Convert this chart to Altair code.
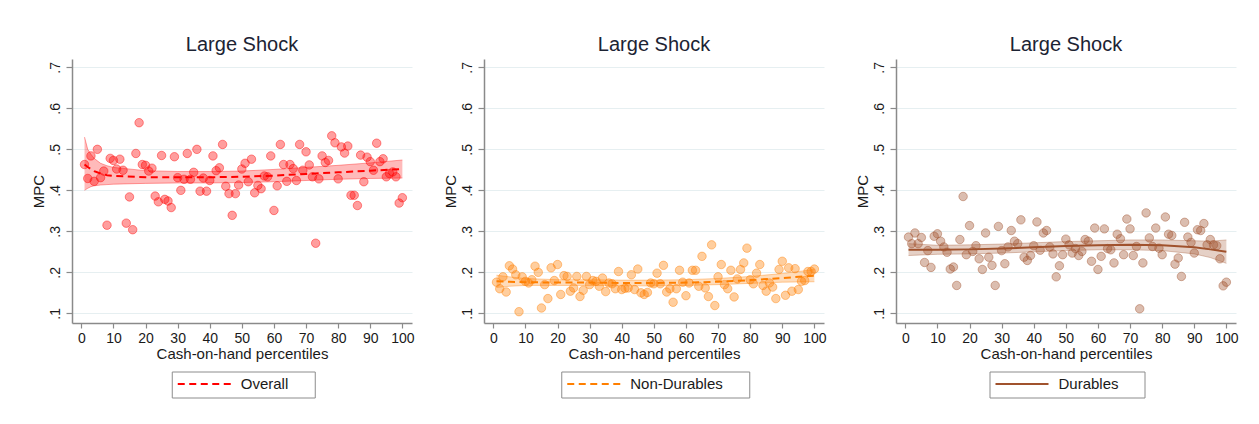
import altair as alt
import pandas as pd

# Cash-on-hand percentiles (x for every scatter point)
pct = list(range(1, 101))

# MPC by percentile
overall_mpc = [
    .463, .429, .484, .422, .500, .431, .447, .315, .478, .473,
    .452, .476, .449, .320, .384, .304, .490, .565, .463, .461,
    .447, .454, .386, .372, .485, .378, .374, .358, .482, .431,
    .400, .427, .490, .427, .444, .500, .398, .430, .398, .424,
    .484, .448, .455, .512, .410, .392, .339, .392, .413, .452,
    .466, .421, .476, .394, .412, .404, .435, .433, .484, .351,
    .411, .512, .463, .422, .463, .453, .424, .512, .449, .494,
    .462, .433, .271, .428, .484, .468, .473, .533, .516, .428,
    .506, .491, .508, .388, .388, .363, .486, .421, .481, .470,
    .449, .515, .470, .477, .433, .441, .445, .433, .369, .382,
]
nondur_mpc = [
    .176, .160, .189, .152, .216, .208, .194, .104, .189, .178,
    .174, .182, .215, .200, .113, .170, .136, .211, .180, .219,
    .146, .192, .190, .154, .162, .190, .141, .156, .190, .170,
    .180, .178, .166, .186, .153, .174, .172, .160, .202, .158,
    .161, .162, .194, .158, .208, .150, .146, .151, .174, .172,
    .198, .172, .217, .152, .160, .127, .160, .205, .176, .143,
    .174, .205, .205, .166, .239, .162, .141, .267, .119, .189,
    .219, .170, .160, .205, .140, .184, .207, .223, .259, .182,
    .172, .198, .219, .168, .154, .174, .164, .136, .207, .227,
    .144, .211, .154, .209, .158, .178, .180, .202, .202, .208,
]
dur_mpc = [
    .286, .270, .296, .270, .285, .224, .253, .212, .288, .294,
    .276, .262, .249, .208, .213, .168, .280, .385, .243, .314,
    .251, .265, .233, .207, .296, .237, .217, .168, .312, .253,
    .221, .262, .302, .276, .270, .328, .237, .229, .241, .265,
    .323, .254, .296, .302, .262, .245, .189, .216, .243, .281,
    .267, .247, .258, .241, .251, .280, .276, .227, .308, .207,
    .239, .306, .258, .255, .223, .293, .282, .243, .330, .306,
    .241, .263, .111, .223, .345, .284, .263, .308, .259, .243,
    .335, .293, .290, .220, .235, .190, .322, .286, .273, .247,
    .304, .302, .319, .267, .280, .267, .265, .233, .167, .176,
]

# Local polynomial fits with 95% confidence bands
overall_fit_x = [1, 2, 3, 4, 6, 8, 10, 20, 30, 40, 50, 60, 70, 80, 90, 100]
overall_fit = [.463, .457, .452, .447, .441, .437, .435, .432, .432, .432, .433, .436, .440, .444, .448, .452]
overall_lo = [.400, .405, .409, .411, .413, .414, .415, .417, .418, .418, .419, .421, .424, .427, .429, .430]
overall_hi = [.530, .500, .488, .478, .466, .460, .456, .448, .446, .446, .447, .451, .456, .461, .467, .474]

nondur_fit_x = [1, 5, 10, 20, 30, 40, 50, 60, 70, 80, 90, 100]
nondur_fit = [.178, .177, .176, .175, .175, .174, .174, .175, .177, .181, .186, .192]
nondur_lo = [.163, .166, .168, .168, .168, .167, .167, .168, .170, .173, .176, .177]
nondur_hi = [.193, .189, .185, .182, .182, .181, .181, .182, .185, .190, .197, .207]

dur_fit_x = [1, 10, 20, 30, 40, 50, 60, 70, 80, 90, 95, 100]
dur_fit = [.255, .255, .256, .258, .261, .264, .266, .267, .266, .261, .256, .250]
dur_lo = [.241, .244, .245, .247, .250, .253, .255, .255, .253, .245, .236, .222]
dur_hi = [.270, .266, .267, .269, .272, .275, .277, .279, .279, .277, .276, .279]

FONT = "Liberation Sans"
TEXT = "#1a1a1a"
X_DOMAIN = [-2.9, 103.0]
Y_DOMAIN = [0.0764, 0.7204]
W, H = 340, 264
SYM = 53  # legend key line length
# trailing room inside the legend frame, closed by a zero-width space so it is kept
PAD_LABEL = "\u00a0" * 5 + "\u200b"


def panel(series, values, fx, fit, lo, hi, color, dash, label_w):
    pts = pd.DataFrame({"pct": pct, "mpc": values})
    fits = pd.DataFrame({"pct": fx, "mpc": fit, "lo": lo, "hi": hi, "series": series})

    x_enc = alt.X(
        "pct:Q",
        scale=alt.Scale(domain=X_DOMAIN, nice=False, zero=False),
        axis=alt.Axis(values=list(range(0, 101, 10)), title="Cash-on-hand percentiles", grid=False),
    )
    y_axis = alt.Axis(
        values=[0.1, 0.2, 0.3, 0.4, 0.5, 0.6, 0.7],
        labelExpr="replace(format(datum.value, '.1f'), '0.', '.')",
        title="MPC",
        labelAngle=270,
        labelAlign="center",
        labelBaseline="bottom",
    )
    y_scale = alt.Scale(domain=Y_DOMAIN, nice=False, zero=False)

    band = alt.Chart(fits).mark_area(color=color, opacity=0.27).encode(
        x=x_enc,
        y=alt.Y("lo:Q", scale=y_scale, axis=y_axis),
        y2="hi:Q",
    )
    edge_lo = alt.Chart(fits).mark_line(color=color, strokeOpacity=0.35, strokeWidth=1).encode(
        x=x_enc, y=alt.Y("lo:Q", scale=y_scale, axis=y_axis)
    )
    edge_hi = alt.Chart(fits).mark_line(color=color, strokeOpacity=0.35, strokeWidth=1).encode(
        x=x_enc, y=alt.Y("hi:Q", scale=y_scale, axis=y_axis)
    )
    dots = alt.Chart(pts).mark_point(
        shape="circle", filled=True, size=72, color=color,
        fillOpacity=0.38, stroke=color, strokeOpacity=0.42, strokeWidth=1,
    ).encode(x=x_enc, y=alt.Y("mpc:Q", scale=y_scale, axis=y_axis))

    legend_w = 10 + SYM + 10 + label_w + 20
    line_kw = dict(strokeWidth=2)
    leg_kw = {}
    if dash:
        line_kw["strokeDash"] = dash
        leg_kw["symbolDash"] = dash
    fit_line = alt.Chart(fits).mark_line(**line_kw).encode(
        x=x_enc,
        y=alt.Y("mpc:Q", scale=y_scale, axis=y_axis),
        color=alt.Color(
            "series:N",
            scale=alt.Scale(domain=[series], range=[color]),
            legend=alt.Legend(
                title=None,
                orient="none",
                legendX=(W - legend_w) / 2,
                legendY=312.5,
                direction="horizontal",
                symbolType="stroke",
                symbolSize=SYM * SYM,
                symbolStrokeWidth=2,
                strokeColor="#8c8c8c",
                padding=5,
                labelOffset=9,
                clipHeight=15,
                labelFont=FONT,
                labelFontSize=15,
                labelColor=TEXT,
                labelExpr="datum.label + '" + PAD_LABEL + "'",
                **leg_kw,
            ),
        ),
    )

    return alt.layer(band, edge_lo, edge_hi, dots, fit_line).properties(
        width=W,
        height=H,
        title=alt.TitleParams(
            "Large Shock", fontSize=20, font=FONT, fontWeight="normal",
            color="#1c2333", anchor="middle", frame="group", offset=4,
        ),
    )


p1 = panel("Overall", overall_mpc, overall_fit_x, overall_fit, overall_lo, overall_hi,
           "#ff0000", [7, 4.5], 47.5)
p2 = panel("Non-Durables", nondur_mpc, nondur_fit_x, nondur_fit, nondur_lo, nondur_hi,
           "#ff7f00", [7, 4.5], 92.5)
p3 = panel("Durables", dur_mpc, dur_fit_x, dur_fit, dur_lo, dur_hi,
           "#a0522d", None, 60.0)

chart = (
    alt.hconcat(p1, p2, p3, spacing=27)
    .resolve_scale(color="independent")
    .resolve_legend(color="independent")
    .properties(padding={"left": 30, "top": 35, "right": 5, "bottom": 5}, background="white")
    .configure_view(stroke=None)
    .configure_axis(
        labelFont=FONT,
        titleFont=FONT,
        labelColor=TEXT,
        titleColor=TEXT,
        labelFontSize=14,
        titleFontSize=15,
        titleFontWeight="normal",
        domainColor="#8a8a8a",
        tickColor="#8a8a8a",
        domainWidth=1.5,
        tickWidth=1.2,
        gridColor="#e6eff1",
        gridWidth=1,
    )
    .configure_axisX(tickSize=5, labelPadding=3, titlePadding=1)
    .configure_axisY(tickSize=6, labelPadding=4, titlePadding=2)
)

chart.save("out.html", embed_options={"renderer": "svg", "actions": False})
